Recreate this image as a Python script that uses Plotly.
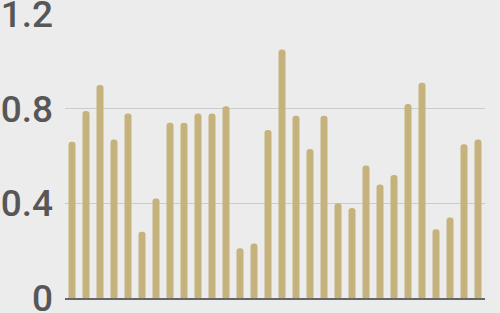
import plotly.graph_objects as go

categories = [str(i) for i in range(1, 31)]
values = [0.66, 0.79, 0.90, 0.67, 0.78, 0.28, 0.42, 0.74, 0.74, 0.78,
          0.78, 0.81, 0.21, 0.23, 0.71, 1.05, 0.77, 0.63, 0.77, 0.40,
          0.38, 0.56, 0.48, 0.52, 0.82, 0.91, 0.29, 0.34, 0.65, 0.67]
tick_vals = [0, 0.4, 0.8, 1.2]
tick_text = ["0", "0.4", "0.8", "1.2"]

fig = go.Figure(go.Bar(x=categories, y=values, marker=dict(color="#c5b27d", line=dict(width=0))))

fig.update_layout(
    width=500, height=313,
    margin=dict(l=65, r=15, t=14, b=15),
    paper_bgcolor="#ececec", plot_bgcolor="#ececec",
    bargap=0.5, barcornerradius=4,
    showlegend=False,
    font=dict(family="Roboto, Liberation Sans, Arial, sans-serif"),
)
fig.update_xaxes(showticklabels=False, showgrid=False, zeroline=False,
                 showline=True, linecolor="#666666", linewidth=2, ticks="",
                 automargin=False)
fig.update_yaxes(range=[0, 1.2], tickvals=tick_vals, ticktext=tick_text,
                 showgrid=True, gridcolor="#cccccc", gridwidth=1, zeroline=False,
                 ticks="", ticklabelstandoff=11, automargin=False,
                 ticklabeloverflow="allow",
                 tickfont=dict(size=37, color="#575757", weight=500,
                               family="Roboto, Liberation Sans, Arial, sans-serif"))

fig.write_html("out.html")
